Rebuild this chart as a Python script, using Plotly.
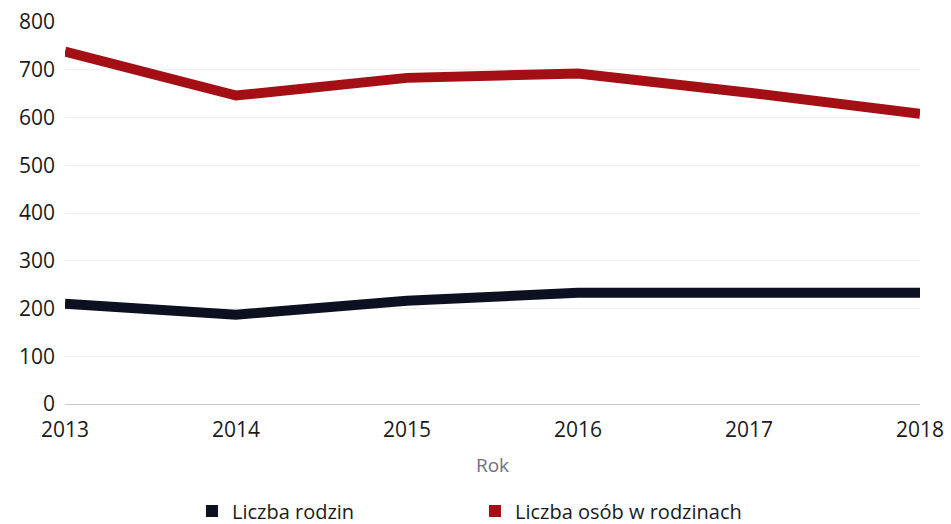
import plotly.graph_objects as go

years = [2013, 2014, 2015, 2016, 2017, 2018]
liczba_rodzin = [210, 187, 216, 233, 233, 233]
liczba_osob = [738, 646, 683, 692, 652, 608]
y_ticks = [0, 100, 200, 300, 400, 500, 600, 700, 800]

RED = "#a30f14"
DARK = "#0d1020"
FONT = "Open Sans"

fig = go.Figure()
fig.add_trace(go.Scatter(x=years, y=liczba_rodzin, mode="lines",
                         line=dict(color=DARK, width=10), showlegend=False))
fig.add_trace(go.Scatter(x=years, y=liczba_osob, mode="lines",
                         line=dict(color=RED, width=10), showlegend=False))
# legend entries
fig.add_trace(go.Scatter(x=[None], y=[None], mode="markers", name="Liczba rodzin",
                         marker=dict(symbol="square", size=12, color=DARK), legend="legend"))
fig.add_trace(go.Scatter(x=[None], y=[None], mode="markers", name="Liczba osób w rodzinach",
                         marker=dict(symbol="square", size=12, color=RED), legend="legend2"))

fig.update_layout(
    width=951, height=524,
    margin=dict(l=65, r=31, t=22, b=120, autoexpand=False),
    paper_bgcolor="white", plot_bgcolor="white",
    font=dict(family=FONT, size=21, color="#1a1a1a"),
    legend=dict(orientation="h", x=0.1485, xanchor="left", y=-0.28, yanchor="middle",
                font=dict(size=20, color="#1a1a1a"), bgcolor="rgba(0,0,0,0)"),
    legend2=dict(orientation="h", x=0.4795, xanchor="left", y=-0.28, yanchor="middle",
                 font=dict(size=20, color="#1a1a1a"), bgcolor="rgba(0,0,0,0)"),
)
fig.update_xaxes(range=[2013, 2018], tickvals=years, ticktext=[str(y) for y in years],
                 showgrid=False, zeroline=False, showline=False, ticks="", automargin=False,
                 title=dict(text="Rok", font=dict(size=19, color="#6e7080"), standoff=16),
                 tickfont=dict(size=21), ticklabelstandoff=11)
fig.update_yaxes(range=[0, 800], tickvals=y_ticks, showgrid=True, gridcolor="#f1eff2",
                 gridwidth=1, zeroline=True, zerolinecolor="#c8c8cc", zerolinewidth=1,
                 showline=False, ticks="", tickfont=dict(size=21), ticklabelstandoff=9,
                 automargin=False)

fig.write_html("out.html", config={"displayModeBar": False},
               post_script="document.body.style.margin='0';document.body.style.overflow='hidden';")
